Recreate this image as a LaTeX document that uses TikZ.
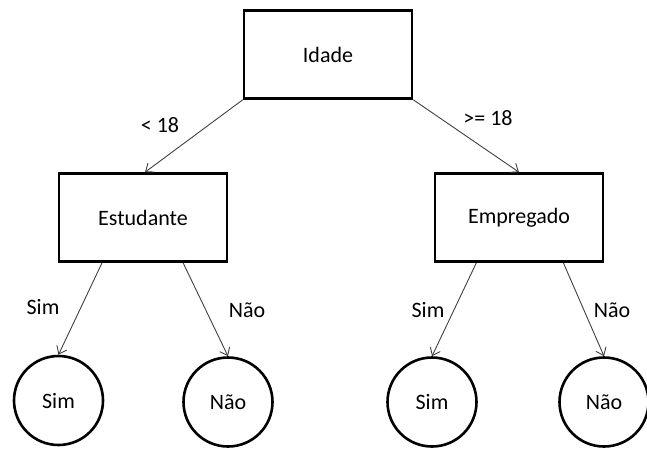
\documentclass[tikz,border=0pt]{standalone}
\usepackage{fontspec}
\setmainfont{Carlito}
\usetikzlibrary{arrows.meta,calc}
\begin{document}
\begin{tikzpicture}[x=1pt,y=-1pt,
  every node/.style={font=\fontsize{22}{26}\selectfont, inner sep=0pt},
  decision/.style={draw=black, line width=2.6pt, rectangle, minimum width=168pt, minimum height=88pt},
  leaf/.style={draw=black, line width=2.6pt, circle, minimum size=89pt},
  branch/.style={draw=black!75, line width=0.9pt, -{Straight Barb[length=7pt,width=11pt,line width=0.9pt]}},
  tag/.style={anchor=center}
]
\useasboundingbox (0,0) rectangle (647,450);

% decision nodes
\node[decision] (idade) at (328,54.5) {Idade};
\node[decision] (est) at (143,217.5) {Estudante};
\node[decision] (emp) at (519,217.5) {Empregado};

% leaves
\node[leaf] (s1) at (58.5,400.5) {Sim};
\node[leaf] (n1) at (228,402) {Não};
\node[leaf] (s2) at (432,402) {Sim};
\node[leaf] (n2) at (604,402) {Não};

% branches from the root
\draw[branch] (idade.south west) -- ($(est.north)+(2,0)$);
\draw[branch] (idade.south east) -- (emp.north);

% branches from the second level
\draw[branch] ($(est.south west)!0.26!(est.south east)$) -- (s1.north);
\draw[branch] ($(est.south west)!0.735!(est.south east)$) -- (n1.north);
\draw[branch] ($(emp.south west)!0.25!(emp.south east)$) -- (s2.north);
\draw[branch] ($(emp.south west)!0.76!(emp.south east)$) -- (n2.north);

% branch labels
\node[tag] (l1) at (160,125) {< 18};
\node[tag] (l2) at (488,118) {>= 18};
\node[tag] (l3) at (43,307) {Sim};
\node[tag] (l4) at (247,310) {Não};
\node[tag] (l5) at (428,310) {Sim};
\node[tag] (l6) at (612,310) {Não};
\end{tikzpicture}
\end{document}
